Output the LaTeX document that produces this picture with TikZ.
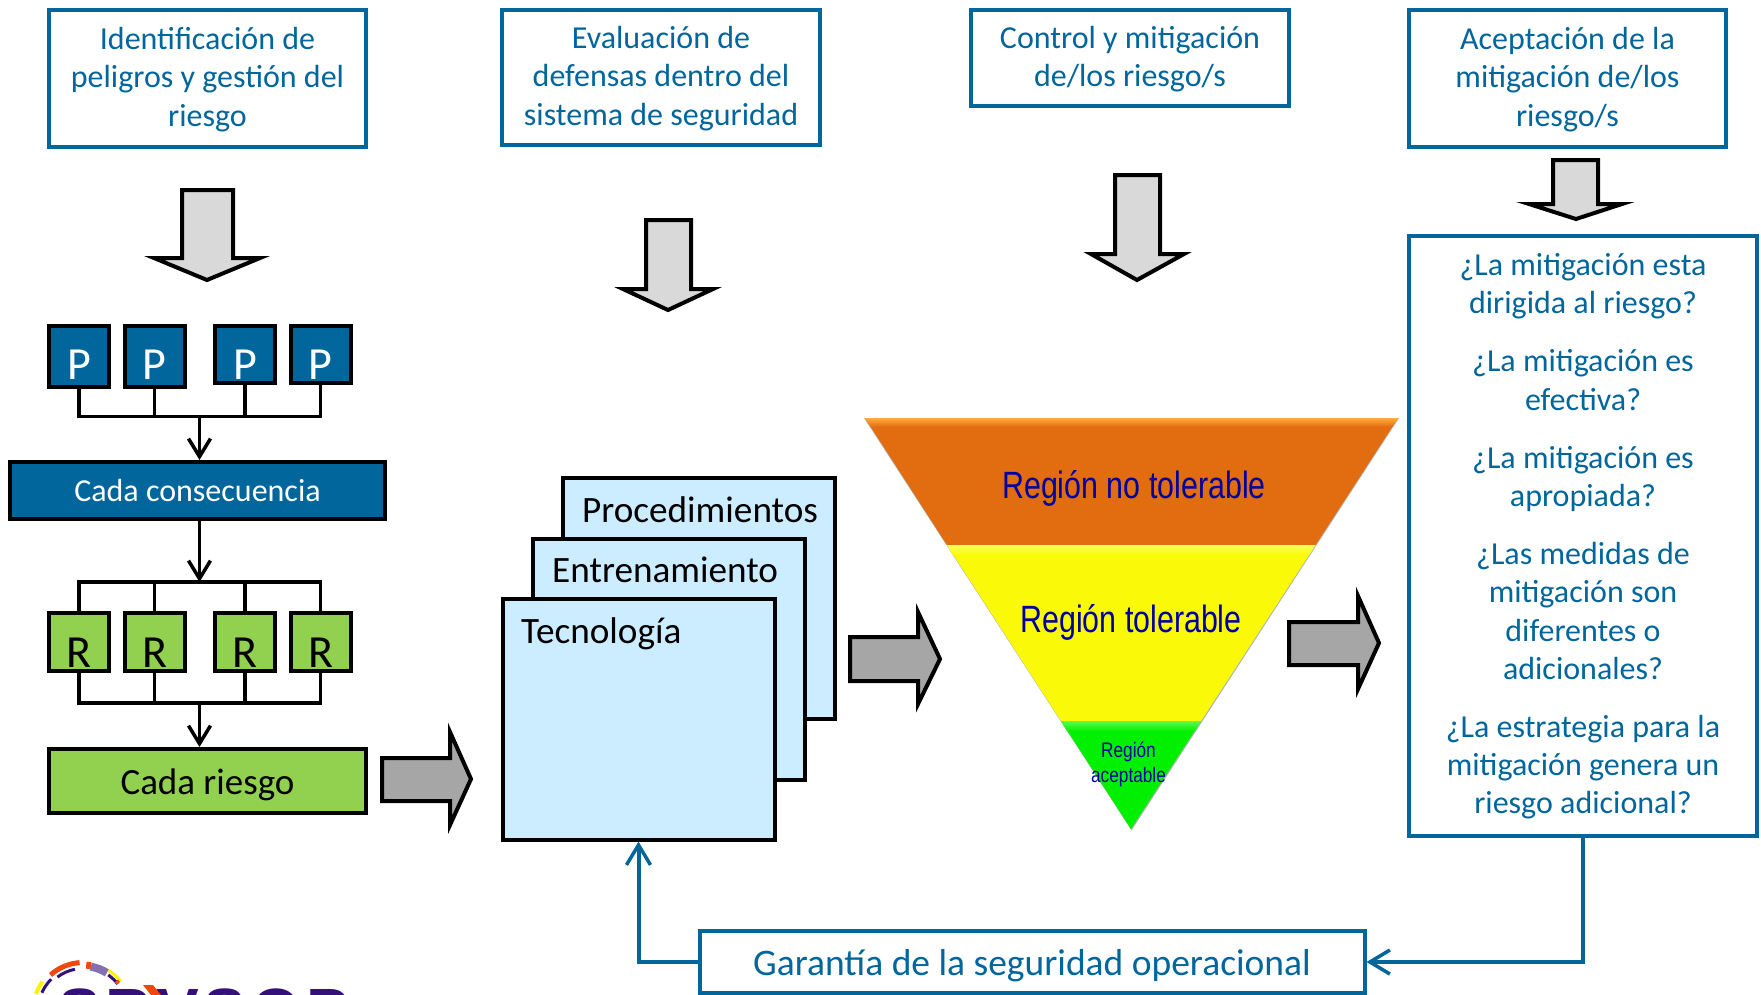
\documentclass[tikz,border=0pt]{standalone}
\usepackage{fontspec}
\setmainfont{Carlito}
\newfontfamily\arialfont{Liberation Sans}
\usetikzlibrary{arrows.meta}
\definecolor{srmblue}{HTML}{00669C}
\definecolor{srmgreen}{HTML}{92D050}
\definecolor{stackblue}{HTML}{CCECFF}
\definecolor{regionblue}{HTML}{0000A0}
\definecolor{logopurple}{HTML}{33107A}
\definecolor{logoorange}{HTML}{F0480C}
\newcommand{\headstrut}{\rule{0pt}{25pt}}
\tikzset{
  headbox/.style={draw=srmblue, line width=4pt, fill=white, text=srmblue, align=center,
    font=\fontsize{32}{38.5}\selectfont, inner sep=0pt},
  smallbox/.style={draw=black, line width=4pt, inner sep=0pt, minimum width=60pt,
    font=\fontsize{46}{46}\selectfont, text depth=0pt},
  pbox/.style={smallbox, fill=srmblue, text=white},
  rbox/.style={smallbox, fill=srmgreen, text=black, text height=49.4pt, minimum height=58pt},
  stackbox/.style={draw=black, line width=4pt, fill=stackblue, minimum width=272pt,
    minimum height=241pt, inner sep=0pt},
  stacktext/.style={anchor=base west, inner sep=0pt, font=\fontsize{37.2}{37.2}\selectfont},
  regiontext/.style={text=regionblue, inner sep=0pt, align=center},
  wire/.style={line width=3.4pt},
  fbline/.style={draw=srmblue, line width=4pt, >={Straight Barb[length=20pt, width=24pt, line width=3.5pt]}},
  downblock/.style={draw=black, line width=4pt, fill=black!15, miter limit=20},
  rightblock/.style={draw=black, line width=4pt, fill=black!35, miter limit=20}
}
\begin{document}
\begin{tikzpicture}[x=1pt, y=-1pt, >={Straight Barb[length=18pt, width=22pt, line width=3.5pt]}]
  \useasboundingbox (0,0) rectangle (1761,994);

  %% headers
  \node[headbox, minimum width=317pt, minimum height=137pt] (ident) at (207.5,78) {\headstrut Identificación de\\peligros y gestión del\\riesgo};
  \node[headbox, minimum width=318pt, minimum height=135pt] (eval) at (661,77) {\headstrut Evaluación de\\defensas dentro del\\sistema de seguridad};
  \node[headbox, minimum width=318pt, minimum height=96pt] (ctrl) at (1130,57.5) {\headstrut Control y mitigación\\de/los riesgo/s};
  \node[headbox, minimum width=317pt, minimum height=137pt] (acep) at (1567.5,78) {\headstrut Aceptación de la\\mitigación de/los\\riesgo/s};

  %% block arrows downward
  \draw[downblock] (182,190) -- (233,190) -- (233,258) -- (260,258) -- (207,280) -- (154,258) -- (182,258) -- cycle;
  \draw[downblock] (646,220) -- (691,220) -- (691,289) -- (713,289) -- (668,310) -- (623,289) -- (646,289) -- cycle;
  \draw[downblock] (1115,175) -- (1160,175) -- (1160,254) -- (1184,254) -- (1137,280) -- (1091,254) -- (1115,254) -- cycle;
  \draw[downblock] (1553,160) -- (1598,160) -- (1598,204) -- (1622,204) -- (1576,219) -- (1529,204) -- (1553,204) -- cycle;

  %% left column
  \node[pbox, minimum height=61pt, text height=45pt] (p1) at (79,356.5) {P};
  \node[pbox, minimum height=61pt, text height=45pt] (p2) at (154.5,356.5) {P};
  \node[pbox, minimum height=57pt, text height=49pt] (p3) at (245,354.5) {P};
  \node[pbox, minimum height=57pt, text height=49pt] (p4) at (320.5,354.5) {P};
  \coordinate (busp) at (199.5,416.5);
  \node[draw=black, line width=4pt, fill=srmblue, text=white, minimum width=375pt, minimum height=57.5pt,
    inner sep=0pt, font=\fontsize{32}{32}\selectfont] (cons) at (197.5,490.7) {Cada consecuencia};
  \coordinate (busr) at (199.5,582);
  \node[rbox] (r1) at (79,642.3) {R};
  \node[rbox] (r2) at (154.5,642.3) {R};
  \node[rbox] (r3) at (245,642.3) {R};
  \node[rbox] (r4) at (320.5,642.3) {R};
  \coordinate (busq) at (199.5,703);
  \node[draw=black, line width=4pt, fill=srmgreen, minimum width=317pt, minimum height=64pt,
    inner sep=0pt, text height=26pt, text depth=0pt, font=\fontsize{37}{37}\selectfont] (cada) at (207.5,781) {Cada riesgo};

  \foreach \n in {p1,p2,p3,p4} \draw[wire] (\n.south) |- (busp);
  \draw[wire,->] (busp) -- (busp |- cons.north);
  \draw[wire,->] (busp |- cons.south) -- (busr);
  \foreach \n in {r1,r2,r3,r4} \draw[wire] (\n.north) |- (busr);
  \foreach \n in {r1,r2,r3,r4} \draw[wire] (\n.south) |- (busq);
  \draw[wire,->] (busq) -- (busq |- cada.north);

  %% block arrows to the right
  \draw[rightblock] (382,758) -- (450,758) -- (450,732) -- (471,779) -- (450,825) -- (450,801) -- (382,801) -- cycle;
  \draw[rightblock] (850,637) -- (918,637) -- (918,612) -- (940,659) -- (918,704) -- (918,681) -- (850,681) -- cycle;
  \draw[rightblock] (1289,622) -- (1358,622) -- (1358,596) -- (1379,643) -- (1358,689) -- (1358,665) -- (1289,665) -- cycle;

  %% stacked sheets
  \node[stackbox] (proc) at (698.5,598) {};
  \node[stacktext] (proctext) at (582,522) {Procedimientos};
  \node[stackbox] (entr) at (668.5,659) {};
  \node[stacktext] (entrtext) at (552,582) {Entrenamiento};
  \node[stackbox] (tecn) at (638.5,719) {};
  \node[stacktext] (tecntext) at (521,643) {Tecnología};

  %% inverted triangle
  \fill[black!30] (864,418) -- (1399,418) -- (1131.5,830.5) -- cycle;
  \fill[fill={rgb,255:red,226;green,108;blue,16}] (865,418) -- (1398,418) -- (1315.5,545) -- (947,545) -- cycle;
  \shade[top color={rgb,255:red,255;green,172;blue,64}, bottom color={rgb,255:red,226;green,108;blue,16}]
    (865,418) -- (1398,418) -- (1392,427) -- (871,427) -- cycle;
  \fill[fill={rgb,255:red,250;green,250;blue,8}] (947,545) -- (1315.5,545) -- (1201,721) -- (1061,721) -- cycle;
  \shade[top color={rgb,255:red,255;green,255;blue,90}, bottom color={rgb,255:red,250;green,250;blue,8}]
    (947,545) -- (1315.5,545) -- (1309,555) -- (953,555) -- cycle;
  \fill[fill={rgb,255:red,0;green,240;blue,0}] (1061,721) -- (1201,721) -- (1131,829) -- cycle;
  \shade[top color={rgb,255:red,90;green,255;blue,70}, bottom color={rgb,255:red,0;green,240;blue,0}]
    (1061,721) -- (1201,721) -- (1195,731) -- (1067,731) -- cycle;
  \node[regiontext, font=\arialfont\fontsize{38}{38}\selectfont] (norgn) at (1134,488) {\scalebox{.8}[1]{Región no tolerable}};
  \node[regiontext, font=\arialfont\fontsize{38}{38}\selectfont] (tolrgn) at (1131,622) {\scalebox{.8}[1]{Región tolerable}};
  \node[regiontext, font=\arialfont\fontsize{21}{25}\selectfont] (acrgn) at (1128.5,764) {\scalebox{.82}[1]{Región}\\\scalebox{.82}[1]{aceptable}};

  %% questions and assurance
  \node[headbox, minimum width=348pt, minimum height=600pt, font=\fontsize{32}{38.2}\selectfont] (preg) at (1583,535.5)
    {\rule{0pt}{24pt}¿La mitigación esta\\dirigida al riesgo?\\[20pt]¿La mitigación es\\efectiva?\\[20pt]¿La mitigación es\\apropiada?\\[20pt]¿Las medidas de\\mitigación son\\diferentes o\\adicionales?\\[20pt]¿La estrategia para la\\mitigación genera un\\riesgo adicional?};
  \node[headbox, minimum width=665pt, minimum height=62pt, text height=26pt, text depth=0pt,
    font=\fontsize{37.5}{37.5}\selectfont] (gar) at (1032,962) {Garantía de la seguridad operacional};
  \draw[fbline,->] (preg.south) |- (gar.east);
  \draw[fbline,->] (gar.west) -| (tecn.south);

  %% logo, cut by the lower edge
  \begin{scope}
    \clip (0,940) rectangle (400,994);
    \node[anchor=base west, inner sep=0pt, text=logopurple, font=\arialfont\bfseries\fontsize{64}{64}\selectfont] (logo) at (58,1033)
      {\addfontfeature{LetterSpace=8}SRVSOP};
    \fill[logoorange] (143,985) -- (153,985) -- (165,1000) -- (155,1000) -- cycle;
    \begin{scope}[shift={(83,1011)}]
      \foreach \a/\b/\r/\w/\c in {132/94/48.5/5/logoorange, 127/101/42.5/3/logopurple, 86/80/46/7/logoorange,
        80/58/45/8/logopurple!60, 58/38/48/3/yellow, 55/38/44/3/logopurple, 42/38/45/4/logoorange,
        160/144/50/4/yellow, 156/135/45/3/logopurple}
        \draw[line width=\w pt, draw=\c] (-\a:\r) arc[start angle=-\a, end angle=-\b, radius=\r];
    \end{scope}
  \end{scope}
\end{tikzpicture}
\end{document}
